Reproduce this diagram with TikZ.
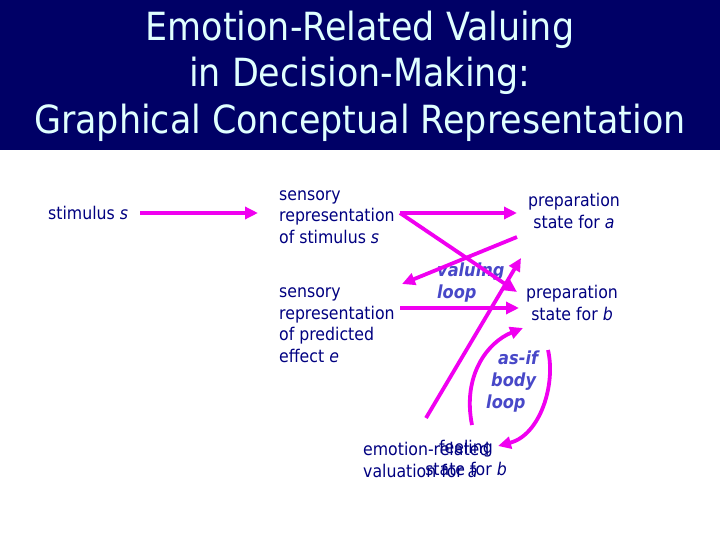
\documentclass[tikz,border=0pt]{standalone}
\usepackage{fontspec}
\setmainfont{DejaVu Sans Condensed}
\usetikzlibrary{arrows.meta, positioning}
\definecolor{titlebg}{RGB}{0,0,102}
\definecolor{titlefg}{RGB}{224,255,255}
\definecolor{textnavy}{RGB}{0,0,128}
\definecolor{loopblue}{RGB}{72,72,200}
\definecolor{pinkarrow}{RGB}{240,0,240}

\begin{document}
\begin{tikzpicture}[x=1pt, y=-1pt, >={Triangle[length=13pt,width=12pt]},
  state/.style={font=\fontsize{17.5}{21.5}\selectfont, text=textnavy, align=left, inner sep=0pt},
  looplabel/.style={font=\fontsize{18}{22}\selectfont\bfseries\itshape, text=loopblue, align=left, inner sep=0pt},
  link/.style={draw=pinkarrow, line width=3.8pt, ->}]
  \useasboundingbox (0,0) rectangle (720,540);
  % Title band
  \fill[titlebg] (0,0) rectangle (720,150);
  \node[font=\fontsize{38.8}{46.5}\selectfont, text=titlefg, align=center] (title) at (360,76)
    {Emotion-Related Valuing\\in Decision-Making:\\Graphical Conceptual Representation};
  % States
  \node[state, anchor=west] (stim) at (48,213) {stimulus \textit{s}};
  \node[state, anchor=west] (srs) at (279,217) {sensory\\representation\\of stimulus \textit{s}};
  \node[state, anchor=west] (srp) at (279,325) {sensory\\representation\\of predicted\\effect \textit{e}};
  \node[state, align=center] (psa) at (574,211) {preparation\\state for \textit{a}};
  \node[state, align=center] (psb) at (572,303) {preparation\\state for \textit{b}};
  \node[state, anchor=west] (erv) at (363,460) {emotion-related\\valuation for \textit{a}};
  \node[state, align=center] (feel) at (466,458) {feeling\\state for \textit{b}};
  % Loop labels
  \node[looplabel, anchor=west] (valuing) at (437,283) {valuing\\loop};
  \node[looplabel, anchor=west] (asif) at (486,382) {\hspace*{12pt}as-if\\\hspace*{5pt}body\\loop};
  % Connector ends
  \coordinate (stim out) at (140,213);
  \coordinate (srs in) at (258,213);
  \coordinate (srs out) at (400,213);
  \coordinate (psa in) at (517,213);
  \coordinate (psa out) at (517,237);
  \coordinate (srp in) at (402,284);
  \coordinate (srp out) at (400,308);
  \coordinate (psb in) at (519,308);
  \coordinate (psb cross) at (517,292);
  \coordinate (erv out) at (426,418);
  \coordinate (psb top) at (521,258);
  \coordinate (erv body) at (472,425);
  \coordinate (psb low) at (523,328);
  \coordinate (psb body) at (548,350);
  \coordinate (feel in) at (498,446);
  % Connectors
  \draw[link] (stim out) -- (srs in);
  \draw[link] (srs out) -- (psa in);
  \draw[link] (srs out) -- (psb cross);
  \draw[link] (psa out) -- (srp in);
  \draw[link] (srp out) -- (psb in);
  \draw[link] (erv out) -- (psb top);
  % as-if body loop
  \draw[link] (erv body) .. controls (462,375) and (488,342) .. (psb low);
  \draw[link] (psb body) .. controls (556,385) and (540,435) .. (feel in);
\end{tikzpicture}
\end{document}
